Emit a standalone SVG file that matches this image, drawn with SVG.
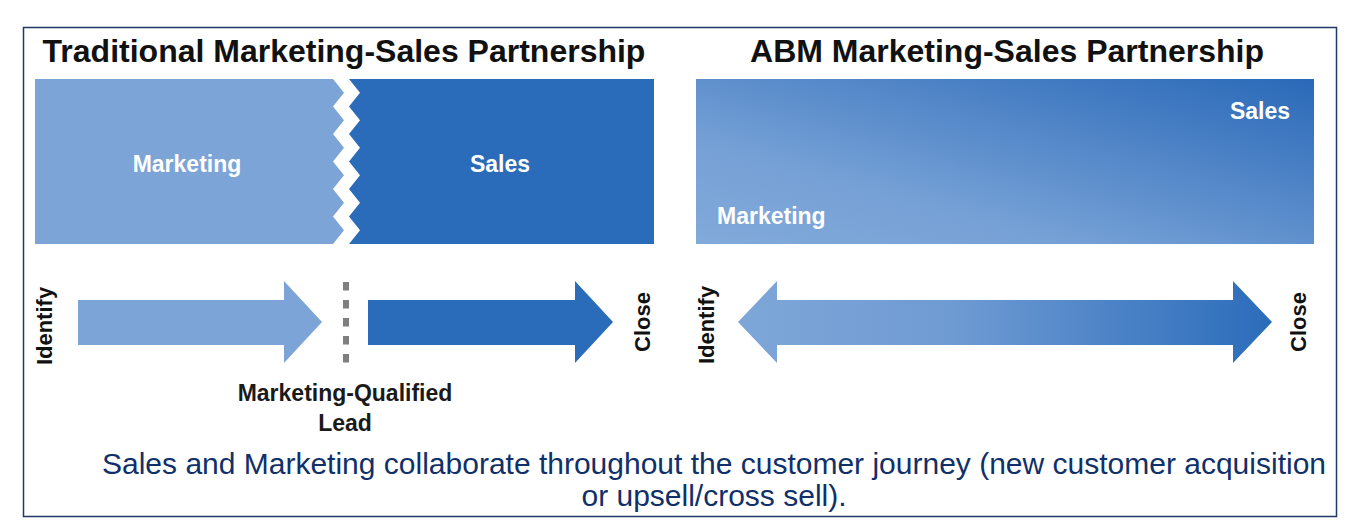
<svg xmlns="http://www.w3.org/2000/svg" width="1358" height="530" viewBox="0 0 1358 530">
<defs>
<style>
.title{font-family:"Liberation Sans",Arial,sans-serif;font-weight:bold;font-size:32px;fill:#111;text-anchor:middle}
.box{font-family:"Liberation Sans",Arial,sans-serif;font-weight:bold;font-size:23px;fill:#fff}
.lbl{font-family:"Liberation Sans",Arial,sans-serif;font-weight:bold;font-size:22px;fill:#111;text-anchor:middle}
.mql{font-family:"Liberation Sans",Arial,sans-serif;font-weight:bold;font-size:23px;fill:#1a1a1a;text-anchor:middle}
.foot{font-family:"Liberation Sans",Arial,sans-serif;font-size:30px;fill:#10306a;text-anchor:middle}
.light{fill:#7ca4d7}
.dark{fill:#2b6cba}
</style>
<linearGradient id="gBox" x1="0" y1="1" x2="1" y2="0">
<stop offset="0" stop-color="#82aada"/>
<stop offset="0.3" stop-color="#76a1d6"/>
<stop offset="1" stop-color="#2a69b8"/>
</linearGradient>
<linearGradient id="gArrow" gradientUnits="userSpaceOnUse" x1="738" y1="0" x2="1272" y2="0">
<stop offset="0" stop-color="#7ea6d8"/>
<stop offset="0.4" stop-color="#6f9bd3"/>
<stop offset="1" stop-color="#2b6cba"/>
</linearGradient>
</defs>
<rect x="0" y="0" width="1358" height="530" fill="#fff"/>
<rect x="23.5" y="27.5" width="1313" height="489" fill="none" stroke="#1f3864" stroke-width="1.5"/>

<g id="title-traditional"><text class="title" x="344" y="62">Traditional Marketing-Sales Partnership</text></g>
<g id="title-abm"><text class="title" x="1007" y="62">ABM Marketing-Sales Partnership</text></g>

<g id="trad-marketing">
<polygon class="light" points="35,79 333,79 344,92.75 333,106.5 344,120.25 333,134 344,147.75 333,161.5 344,175.25 333,189 344,202.75 333,216.5 344,230.25 333,244 35,244"/>
<text class="box" x="187" y="172" text-anchor="middle">Marketing</text>
</g>
<g id="trad-sales">
<polygon class="dark" points="349,79 654,79 654,244 349,244 360,230.25 349,216.5 360,202.75 349,189 360,175.25 349,161.5 360,147.75 349,134 360,120.25 349,106.5 360,92.75"/>
<text class="box" x="500" y="172" text-anchor="middle">Sales</text>
</g>

<g id="abm-box">
<rect x="696" y="79" width="618" height="165" fill="url(#gBox)"/>
<text class="box" x="1290" y="119" text-anchor="end">Sales</text>
<text class="box" x="717" y="224">Marketing</text>
</g>

<g id="connectors">
<polygon id="arrow-marketing" class="light" points="78,300 284,300 284,281 322,322 284,363 284,345 78,345"/>
<line id="mql-divider" x1="346" y1="282" x2="346" y2="363" stroke="#7f7f7f" stroke-width="6" stroke-dasharray="8.5 9.5"/>
<polygon id="arrow-sales" class="dark" points="368,300 575,300 575,281 613,322 575,363 575,345 368,345"/>
<polygon id="arrow-abm" fill="url(#gArrow)" points="738,322 777,281 777,300 1233,300 1233,281 1272,322 1233,363 1233,345 777,345 777,363"/>
</g>

<g id="labels">
<text class="lbl" transform="translate(52,326) rotate(-90)">Identify</text>
<text class="lbl" transform="translate(650,322) rotate(-90)">Close</text>
<text class="lbl" transform="translate(714,325) rotate(-90)">Identify</text>
<text class="lbl" transform="translate(1306,322) rotate(-90)">Close</text>
</g>

<g id="mql-label">
<text class="mql" x="345" y="401">Marketing-Qualified</text>
<text class="mql" x="345" y="431">Lead</text>
</g>

<g id="footer">
<text class="foot" x="714" y="474">Sales and Marketing collaborate throughout the customer journey (new customer acquisition</text>
<text class="foot" x="714" y="506">or upsell/cross sell).</text>
</g>
</svg>
